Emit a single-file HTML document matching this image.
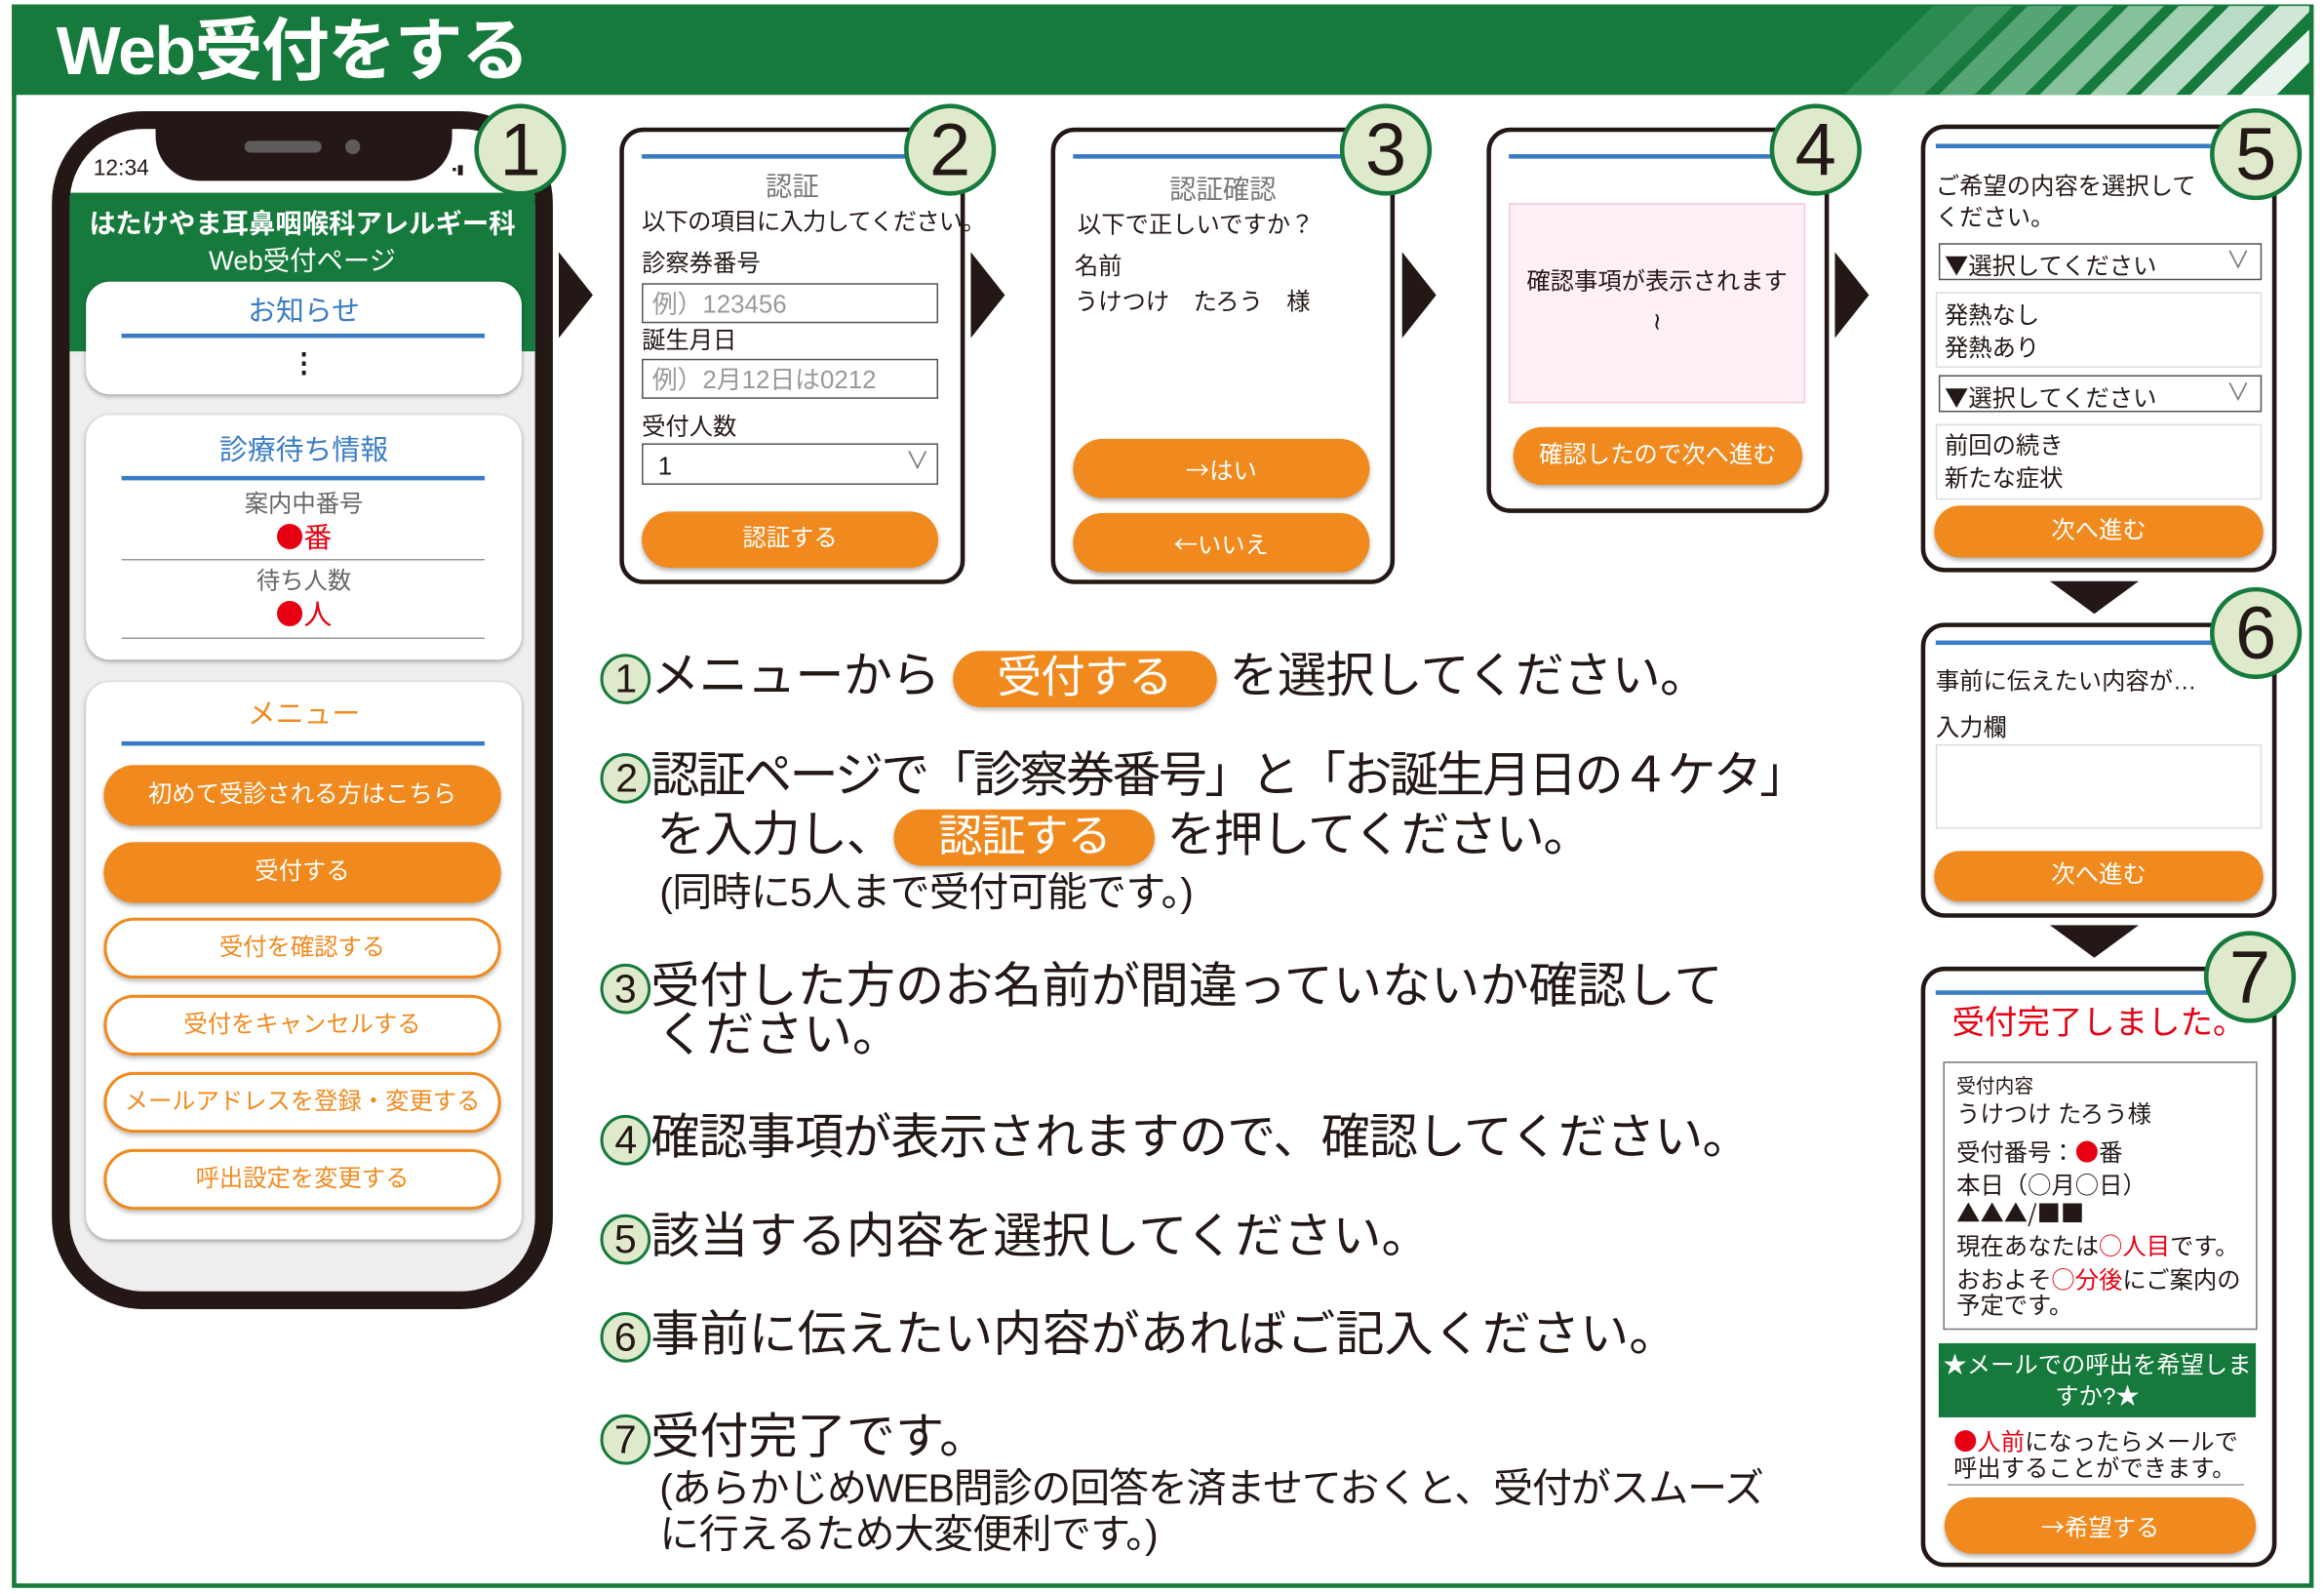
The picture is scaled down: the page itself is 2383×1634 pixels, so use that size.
<!DOCTYPE html>
<html><head><meta charset="utf-8">
<style>
*{margin:0;padding:0;box-sizing:border-box}
html,body{width:2383px;height:1633px;overflow:hidden;background:#fff}
#s{position:absolute;left:0;top:0;width:1568px;height:1075px;transform:scale(1.5198);transform-origin:0 0;font-family:"Liberation Sans","Noto Sans CJK JP",sans-serif;color:#231815}
.a{position:absolute}
.t{position:absolute;white-space:nowrap;line-height:1;margin-top:2px}
.c{text-align:center}
.j{font-family:"Noto Sans CJK JP",sans-serif}
.panel{position:absolute;border:3px solid #231815;border-radius:16px;background:#fff}
.bl{position:absolute;height:3px;background:#3a7cc4}
.ob{position:absolute;background:#f08a1e;border-radius:22px;color:#fff;text-align:center;box-shadow:0 2px 3px rgba(0,0,0,.3);white-space:nowrap}
.wb{position:absolute;background:#fff;border:2px solid #f08a1e;border-radius:22px;color:#f08a1e;text-align:center;box-shadow:0 2px 3px rgba(0,0,0,.25);white-space:nowrap}
.badge{position:absolute;width:62px;height:62px;border-radius:50%;background:#dfeacc;border:3px solid #157a3c;text-align:center;font-size:50px;line-height:56px;color:#231815}
.card{position:absolute;background:#fff;border-radius:16px;box-shadow:0 1px 3px rgba(0,0,0,.35)}
.tri{position:absolute;width:0;height:0;border-top:29px solid transparent;border-bottom:29px solid transparent;border-left:23px solid #231815}
.dtri{position:absolute;width:0;height:0;border-left:30px solid transparent;border-right:30px solid transparent;border-top:22px solid #231815}
.inp{position:absolute;border:1.5px solid #555;background:#fff}
.num{display:inline-block;width:34px;height:34px;border-radius:50%;background:#dfeacc;border:2px solid #157a3c;font-size:27px;line-height:30px;text-align:center;vertical-align:middle}
.ins{position:absolute;font-size:33px;white-space:nowrap;line-height:1;margin-top:3px}
.pill{display:inline-block;background:#f08a1e;color:#fff;border-radius:20px;padding:0 30px;line-height:38px;height:38px;vertical-align:middle;box-shadow:0 2px 3px rgba(0,0,0,.25);font-size:30px}
.r{color:#e60012}
</style></head><body><div id="s">
<!-- frame -->
<div class="a" style="left:8px;top:3px;width:1553px;height:1068px;border:3px solid #157a3c"></div>
<div class="a" style="left:8px;top:3px;width:1553px;height:61px;background:#157a3c"></div>
<svg class="a" style="left:0;top:0" width="1568" height="70">
<polygon points="1244,64 1274,64 1334,4 1304,4" fill="#2a8a50"/>
<polygon points="1274,64 1298,64 1358,4 1334,4" fill="#3d9660"/>
<polygon points="1308,64 1332,64 1392,4 1368,4" fill="#55a474"/>
<polygon points="1342,64 1366,64 1426,4 1402,4" fill="#6cb287"/>
<polygon points="1376,64 1400,64 1460,4 1436,4" fill="#86c09c"/>
<polygon points="1410,64 1434,64 1494,4 1470,4" fill="#a0cfb1"/>
<polygon points="1444,64 1468,64 1528,4 1504,4" fill="#b8dbc5"/>
<polygon points="1478,64 1502,64 1558,8 1558,4 1538,4" fill="#d0e7d8"/>
<polygon points="1512,64 1536,64 1558,42 1558,20" fill="#e8f3ec"/>
</svg>
<div class="t" style="left:38px;top:9px;font-size:46px;font-weight:bold;color:#fff;letter-spacing:-1px">Web受付をする</div>

<!-- phone -->
<div class="a" style="left:35px;top:75px;width:338px;height:808px;border:12px solid #231815;border-radius:62px;background:#eee;overflow:hidden">
 <div class="a" style="left:0;top:0;width:314px;height:43px;background:#fff"></div>
 <div class="a" style="left:0;top:43px;width:314px;height:107px;background:#157a3c"></div>
</div>
<div class="a" style="left:105px;top:75px;width:200px;height:47px;background:#231815;border-radius:0 0 30px 30px"></div>
<div class="a" style="left:165px;top:95px;width:52px;height:8px;background:#5f5b5a;border-radius:4px"></div>
<div class="a" style="left:233px;top:94px;width:10px;height:10px;background:#5f5b5a;border-radius:50%"></div>
<div class="t" style="left:63px;top:104px;font-size:15px">12:34</div>
<div class="t" style="left:305px;top:108px;font-size:9px">▪▮</div>
<div class="t c" style="left:47px;width:314px;top:140px;font-size:18px;color:#fff;font-weight:bold">はたけやま耳鼻咽喉科アレルギー科</div>
<div class="t c" style="left:47px;width:314px;top:165px;font-size:18px;color:#fff">Web受付ページ</div>
<div class="card" style="left:58px;top:190px;width:294px;height:76px"></div>
<div class="t c" style="left:58px;width:294px;top:199px;font-size:19px;color:#3a7cc4">お知らせ</div>
<div class="bl" style="left:82px;top:225px;width:245px"></div>
<div class="t c" style="left:58px;width:294px;top:234px;font-size:18px;font-weight:bold">⋮</div>
<div class="card" style="left:58px;top:280px;width:294px;height:165px"></div>
<div class="t c" style="left:58px;width:294px;top:293px;font-size:19px;color:#3a7cc4">診療待ち情報</div>
<div class="bl" style="left:82px;top:321px;width:245px"></div>
<div class="t c" style="left:58px;width:294px;top:331px;font-size:16px;color:#666">案内中番号</div>
<div class="t c r" style="left:58px;width:294px;top:350px;font-size:19px"><span class="j">●</span>番</div>
<div class="a" style="left:82px;top:377px;width:245px;height:1px;background:#999"></div>
<div class="t c" style="left:58px;width:294px;top:383px;font-size:16px;color:#666">待ち人数</div>
<div class="t c r" style="left:58px;width:294px;top:402px;font-size:19px"><span class="j">●</span>人</div>
<div class="a" style="left:82px;top:430px;width:245px;height:1px;background:#999"></div>
<div class="card" style="left:58px;top:460px;width:294px;height:376px"></div>
<div class="t c" style="left:58px;width:294px;top:471px;font-size:19px;color:#f08a1e">メニュー</div>
<div class="bl" style="left:82px;top:500px;width:245px"></div>
<div class="ob" style="left:70px;top:516px;width:268px;height:41px;line-height:41px;font-size:16px">初めて受診される方はこちら</div>
<div class="ob" style="left:70px;top:568px;width:268px;height:41px;line-height:41px;font-size:16px">受付する</div>
<div class="wb" style="left:70px;top:619px;width:268px;height:41px;line-height:37px;font-size:16px">受付を確認する</div>
<div class="wb" style="left:70px;top:671px;width:268px;height:41px;line-height:37px;font-size:16px">受付をキャンセルする</div>
<div class="wb" style="left:70px;top:723px;width:268px;height:41px;line-height:37px;font-size:16px">メールアドレスを登録・変更する</div>
<div class="wb" style="left:70px;top:775px;width:268px;height:41px;line-height:37px;font-size:16px">呼出設定を変更する</div>

<!-- arrows -->
<div class="tri" style="left:377px;top:170px"></div>
<div class="tri" style="left:655px;top:170px"></div>
<div class="tri" style="left:946px;top:170px"></div>
<div class="tri" style="left:1238px;top:170px"></div>
<div class="dtri" style="left:1383px;top:392px"></div>
<div class="dtri" style="left:1383px;top:624px"></div>

<!-- panel 2 -->
<div class="panel" style="left:418px;top:86px;width:233px;height:308px"></div>
<div class="bl" style="left:433px;top:104px;width:180px"></div>
<div class="t c" style="left:418px;width:233px;top:115px;font-size:18px;color:#777">認証</div>
<div class="t" style="left:433px;top:141px;font-size:16px;letter-spacing:-0.5px">以下の項目に入力してください。</div>
<div class="t" style="left:433px;top:169px;font-size:16px">診察券番号</div>
<div class="inp" style="left:433px;top:191px;width:200px;height:27px"></div>
<div class="t" style="left:440px;top:195px;font-size:17px;color:#999">例）123456</div>
<div class="t" style="left:433px;top:221px;font-size:16px">誕生月日</div>
<div class="inp" style="left:433px;top:242px;width:200px;height:27px"></div>
<div class="t" style="left:440px;top:246px;font-size:17px;color:#999">例）2月12日は0212</div>
<div class="t" style="left:433px;top:279px;font-size:16px">受付人数</div>
<div class="inp" style="left:433px;top:299px;width:200px;height:28px"></div>
<div class="t" style="left:444px;top:304px;font-size:17px">1</div>
<div class="t" style="left:611px;top:302px;font-size:16px;color:#777">∨</div>
<div class="ob" style="left:433px;top:345px;width:200px;height:38px;line-height:38px;font-size:16px">認証する</div>

<!-- panel 3 -->
<div class="panel" style="left:709px;top:86px;width:232px;height:308px"></div>
<div class="bl" style="left:724px;top:104px;width:182px"></div>
<div class="t c" style="left:709px;width:232px;top:117px;font-size:18px;color:#777">認証確認</div>
<div class="t" style="left:727px;top:143px;font-size:16px">以下で正しいですか？</div>
<div class="t" style="left:725px;top:171px;font-size:16px">名前</div>
<div class="t" style="left:725px;top:195px;font-size:16px">うけつけ　たろう　様</div>
<div class="ob" style="left:724px;top:296px;width:200px;height:40px;line-height:40px;font-size:16px"><span class="j">→</span>はい</div>
<div class="ob" style="left:724px;top:346px;width:200px;height:40px;line-height:40px;font-size:16px"><span class="j">←</span>いいえ</div>

<!-- panel 4 -->
<div class="panel" style="left:1003px;top:86px;width:231px;height:260px"></div>
<div class="bl" style="left:1018px;top:104px;width:182px"></div>
<div class="a" style="left:1018px;top:137px;width:200px;height:135px;background:#fdf1f7;border:1px solid #f5c8de"></div>
<div class="t c" style="left:1018px;width:200px;top:181px;font-size:16px">確認事項が表示されます</div>
<div class="t c j" style="left:1018px;width:200px;top:205px;font-size:16px">≀</div>
<div class="ob" style="left:1021px;top:288px;width:195px;height:39px;line-height:39px;font-size:16px">確認したので次へ進む</div>

<!-- panel 5 -->
<div class="panel" style="left:1296px;top:84px;width:240px;height:302px"></div>
<div class="bl" style="left:1306px;top:97px;width:190px"></div>
<div class="t" style="left:1306px;top:117px;font-size:16px">ご希望の内容を選択して</div>
<div class="t" style="left:1306px;top:138px;font-size:16px">ください。</div>
<div class="inp" style="left:1308px;top:164px;width:218px;height:25px"></div>
<div class="t" style="left:1312px;top:168px;font-size:16px"><span class="j">▼</span>選択してください</div>
<div class="t" style="left:1502px;top:167px;font-size:16px;color:#777">∨</div>
<div class="a" style="left:1306px;top:197px;width:220px;height:51px;border:1.5px solid #ddd"></div>
<div class="t" style="left:1312px;top:204px;font-size:16px">発熱なし</div>
<div class="t" style="left:1312px;top:226px;font-size:16px">発熱あり</div>
<div class="inp" style="left:1308px;top:253px;width:218px;height:25px"></div>
<div class="t" style="left:1312px;top:257px;font-size:16px"><span class="j">▼</span>選択してください</div>
<div class="t" style="left:1502px;top:256px;font-size:16px;color:#777">∨</div>
<div class="a" style="left:1306px;top:286px;width:220px;height:51px;border:1.5px solid #ddd"></div>
<div class="t" style="left:1312px;top:292px;font-size:16px">前回の続き</div>
<div class="t" style="left:1312px;top:314px;font-size:16px">新たな症状</div>
<div class="ob" style="left:1305px;top:341px;width:222px;height:35px;line-height:35px;font-size:16px">次へ進む</div>

<!-- panel 6 -->
<div class="panel" style="left:1296px;top:420px;width:240px;height:199px"></div>
<div class="bl" style="left:1306px;top:432px;width:190px"></div>
<div class="t" style="left:1306px;top:451px;font-size:16px">事前に伝えたい内容が…</div>
<div class="t" style="left:1306px;top:482px;font-size:16px">入力欄</div>
<div class="a" style="left:1306px;top:502px;width:220px;height:57px;border:1.5px solid #ddd"></div>
<div class="ob" style="left:1305px;top:574px;width:222px;height:34px;line-height:34px;font-size:16px">次へ進む</div>

<!-- panel 7 -->
<div class="panel" style="left:1296px;top:652px;width:240px;height:405px"></div>
<div class="bl" style="left:1306px;top:668px;width:190px"></div>
<div class="t c r" style="left:1296px;width:240px;top:677px;font-size:22px">受付完了しました。</div>
<div class="a" style="left:1311px;top:716px;width:212px;height:181px;border:1px solid #777"></div>
<div class="t" style="left:1320px;top:724px;font-size:13px">受付内容</div>
<div class="t" style="left:1320px;top:743px;font-size:16px">うけつけ  たろう様</div>
<div class="t" style="left:1320px;top:766px;font-size:16px">受付番号：<span class="r j">●</span>番</div>
<div class="t" style="left:1320px;top:788px;font-size:16px">本日（<span class="j">○</span>月<span class="j">○</span>日）</div>
<div class="t j" style="left:1320px;top:807px;font-size:16px">▲▲▲/■■</div>
<div class="t" style="left:1320px;top:829px;font-size:16px">現在あなたは<span class="r"><span class="j">○</span>人目</span>です。</div>
<div class="t" style="left:1320px;top:852px;font-size:16px">おおよそ<span class="r"><span class="j">○</span>分後</span>にご案内の</div>
<div class="t" style="left:1320px;top:872px;font-size:16px">予定です。</div>
<div class="a" style="left:1308px;top:906px;width:214px;height:50px;background:#157a3c"></div>
<div class="t c" style="left:1308px;width:214px;top:912px;font-size:16px;color:#fff">★メールでの呼出を希望しま</div>
<div class="t c" style="left:1308px;width:214px;top:933px;font-size:16px;color:#fff">すか?★</div>
<div class="t" style="left:1318px;top:961px;font-size:16px"><span class="r"><span class="j">●</span>人前</span>になったらメールで</div>
<div class="t" style="left:1318px;top:982px;font-size:16px">呼出することができます。</div>
<div class="a" style="left:1314px;top:1001px;width:200px;height:1px;background:#999"></div>
<div class="ob" style="left:1312px;top:1010px;width:210px;height:38px;line-height:38px;font-size:16px"><span class="j">→</span>希望する</div>

<!-- badges -->
<div class="badge" style="left:320px;top:70px">1</div>
<div class="badge" style="left:610px;top:70px">2</div>
<div class="badge" style="left:904px;top:70px">3</div>
<div class="badge" style="left:1194px;top:70px">4</div>
<div class="badge" style="left:1491px;top:73px">5</div>
<div class="badge" style="left:1491px;top:396px">6</div>
<div class="badge" style="left:1487px;top:628px">7</div>

<!-- instructions -->
<div class="ins" style="left:405px;top:436px;letter-spacing:-0.5px"><span class="num">1</span>メニューから <span class="pill">受付する</span> を選択してください。</div>
<div class="ins" style="left:405px;top:503px;letter-spacing:-1.8px"><span class="num">2</span>認証ページで「診察券番号」と「お誕生月日の４ケタ」</div>
<div class="ins" style="left:443px;top:543px;letter-spacing:-1px">を入力し、<span class="pill">認証する</span> を押してください。</div>
<div class="ins" style="left:445px;top:586px;font-size:27px;letter-spacing:-0.5px">(同時に5人まで受付可能です。)</div>
<div class="ins" style="left:405px;top:645px"><span class="num">3</span>受付した方のお名前が間違っていないか確認して</div>
<div class="ins" style="left:443px;top:678px">ください。</div>
<div class="ins" style="left:405px;top:747px;letter-spacing:-0.6px"><span class="num">4</span>確認事項が表示されますので、確認してください。</div>
<div class="ins" style="left:405px;top:814px"><span class="num">5</span>該当する内容を選択してください。</div>
<div class="ins" style="left:405px;top:880px"><span class="num">6</span>事前に伝えたい内容があればご記入ください。</div>
<div class="ins" style="left:405px;top:949px"><span class="num">7</span>受付完了です。</div>
<div class="ins" style="left:445px;top:988px;font-size:27px;letter-spacing:-0.8px">(あらかじめWEB問診の回答を済ませておくと、受付がスムーズ</div>
<div class="ins" style="left:445px;top:1019px;font-size:27px;letter-spacing:-0.5px">に行えるため大変便利です。)</div>
</div></body></html>
